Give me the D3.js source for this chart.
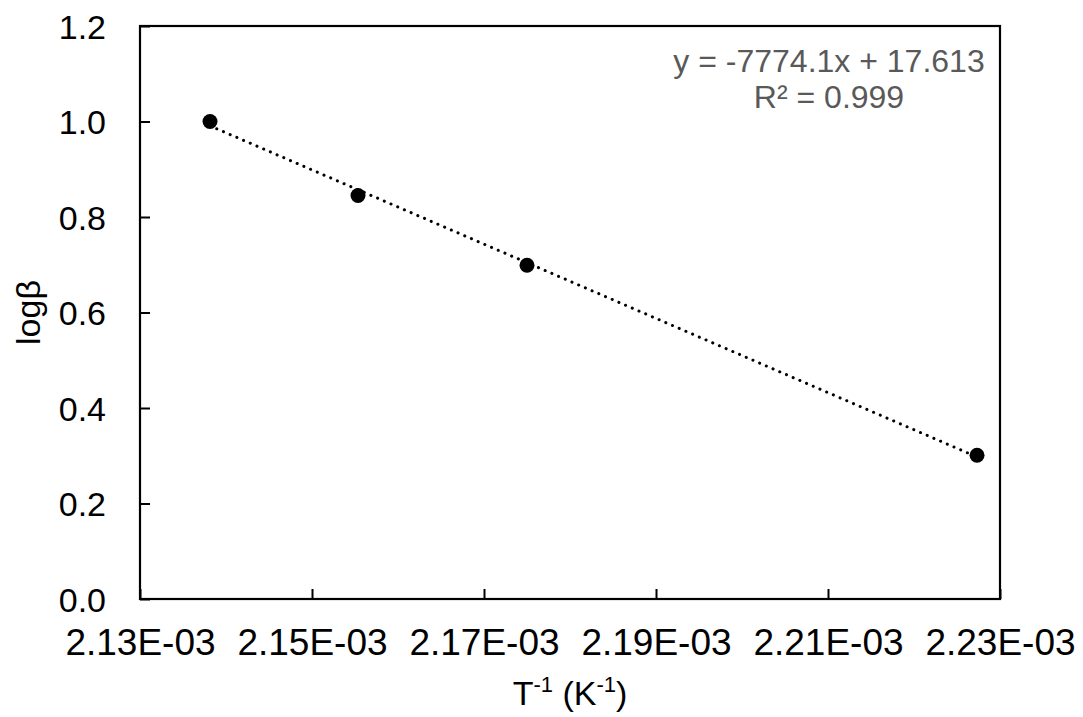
<!DOCTYPE html>
<html>
<head>
<meta charset="utf-8">
<script src="https://cdn.jsdelivr.net/npm/d3@7/dist/d3.min.js"></script>
<style>
  html, body { margin: 0; padding: 0; background: #fff; }
  svg { display: block; font-family: "Liberation Sans", Arial, sans-serif; }
</style>
</head>
<body>
<svg id="chart" width="1083" height="717"></svg>
<script>
// Data
const invT = [2.13814e-3, 2.15535e-3, 2.17500e-3, 2.22733e-3];
const logBeta = [1.0, 0.845, 0.699, 0.301];
const xTicks = [2.13e-3, 2.15e-3, 2.17e-3, 2.19e-3, 2.21e-3, 2.23e-3];
const xTickLabels = ["2.13E-03", "2.15E-03", "2.17E-03", "2.19E-03", "2.21E-03", "2.23E-03"];
const yTicks = [0, 0.2, 0.4, 0.6, 0.8, 1.0, 1.2];
const yTickLabels = ["0.0", "0.2", "0.4", "0.6", "0.8", "1.0", "1.2"];
const fitSlope = -7774.1;
const fitIntercept = 17.613;
const eqLines = ["y = -7774.1x + 17.613", "R² = 0.999"];

const svg = d3.select("#chart");
const m = { left: 140, top: 26, right: 1000, bottom: 599 };
const FONT = "'Liberation Sans', Arial, sans-serif";

const x = d3.scaleLinear().domain([2.13e-3, 2.23e-3]).range([m.left, m.right]);
const y = d3.scaleLinear().domain([0, 1.2]).range([m.bottom, m.top]);

const xAxis = d3.axisBottom(x).tickValues(xTicks).tickSize(0).tickFormat((d, i) => xTickLabels[i]);
const yAxis = d3.axisLeft(y).tickValues(yTicks).tickSize(0).tickFormat((d, i) => yTickLabels[i]);

const gx = svg.append("g").attr("transform", `translate(0,${m.bottom})`).call(xAxis);
gx.attr("font-family", null).attr("font-size", null);
gx.select(".domain").remove();
gx.selectAll("text").attr("dy", null).attr("y", 56).style("font-size", "37px").attr("fill", "#000")
  .style("font-family", FONT);
gx.selectAll(".tick line").attr("y2", -10).attr("stroke", "#000").attr("stroke-width", 2);

const gy = svg.append("g").attr("transform", `translate(${m.left},0)`).call(yAxis);
gy.attr("font-family", null).attr("font-size", null);
gy.select(".domain").remove();
gy.selectAll("text").attr("x", -34).attr("dy", "0.36em").style("font-size", "34px").attr("fill", "#000")
  .style("font-family", FONT);
gy.selectAll(".tick line").attr("x2", 10).attr("stroke", "#000").attr("stroke-width", 2);

// Plot frame
svg.append("rect")
  .attr("x", m.left).attr("y", m.top)
  .attr("width", m.right - m.left).attr("height", m.bottom - m.top)
  .attr("fill", "none").attr("stroke", "#000").attr("stroke-width", 2.2);

// Linear trendline (dotted)
const xMin = d3.min(invT), xMax = d3.max(invT);
svg.append("line")
  .attr("x1", x(xMin)).attr("y1", y(fitSlope * xMin + fitIntercept))
  .attr("x2", x(xMax)).attr("y2", y(fitSlope * xMax + fitIntercept))
  .attr("stroke", "#000").attr("stroke-width", 3)
  .attr("stroke-linecap", "round").attr("stroke-dasharray", "0.1 7.2");

// Points
svg.append("g").selectAll("circle")
  .data(invT.map((v, i) => [v, logBeta[i]]))
  .join("circle")
  .attr("cx", d => x(d[0])).attr("cy", d => y(d[1]))
  .attr("r", 7.5).attr("fill", "#000");

// Equation label
const eq = svg.append("text").attr("text-anchor", "middle").attr("fill", "#595959")
  .style("font-size", "32px");
eq.selectAll("tspan").data(eqLines).join("tspan")
  .attr("x", 829).attr("y", (d, i) => 72 + i * 36).text(d => d);

// X axis title
const xt = svg.append("text").attr("x", 570).attr("y", 705).attr("text-anchor", "middle")
  .style("font-size", "34px").attr("fill", "#000");
xt.append("tspan").text("T");
xt.append("tspan").attr("dy", -13).style("font-size", "22px").text("-1");
xt.append("tspan").attr("dy", 13).text(" (K");
xt.append("tspan").attr("dy", -13).style("font-size", "22px").text("-1");
xt.append("tspan").attr("dy", 13).text(")");

// Y axis title
svg.append("text")
  .attr("transform", `translate(40,${(m.top + m.bottom) / 2}) rotate(-90)`)
  .attr("text-anchor", "middle").style("font-size", "34px").attr("fill", "#000")
  .text("logβ");
</script>
</body>
</html>
